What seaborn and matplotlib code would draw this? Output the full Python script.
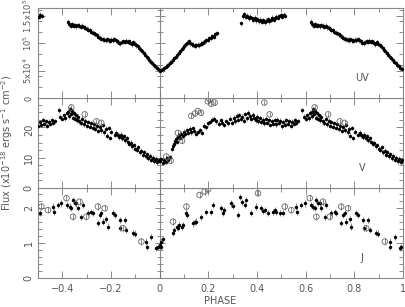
import numpy as np
import pandas as pd
import matplotlib
matplotlib.use("Agg")
import matplotlib.pyplot as plt
import seaborn as sns
from matplotlib.ticker import MultipleLocator, FixedLocator, FixedFormatter, FuncFormatter

# ---------------- data (phase 0..1; plotted again at phase-1) ----------------
uv_phase = [0.000, 0.006, 0.012, 0.018, 0.024, 0.030, 0.036, 0.042, 0.048, 0.054,
            0.060, 0.066, 0.072, 0.078, 0.084, 0.090, 0.096, 0.102, 0.108, 0.114,
            0.120, 0.126, 0.132, 0.138, 0.144, 0.150, 0.156, 0.162, 0.168, 0.174,
            0.180, 0.186, 0.192, 0.198, 0.204, 0.210, 0.216, 0.222, 0.228, 0.234,
            0.336, 0.342, 0.348, 0.354, 0.360, 0.366, 0.372, 0.378, 0.384, 0.390,
            0.396, 0.402, 0.408, 0.414, 0.420, 0.426, 0.432, 0.438, 0.444, 0.450,
            0.456, 0.462, 0.468, 0.474, 0.480, 0.486, 0.492, 0.498, 0.504, 0.510, 0.516,
            0.622, 0.628, 0.634, 0.640, 0.646, 0.652, 0.658, 0.664, 0.670, 0.676,
            0.682, 0.688, 0.694, 0.700, 0.706, 0.712, 0.718, 0.724, 0.730, 0.736,
            0.742, 0.748, 0.754, 0.760, 0.766, 0.772, 0.778, 0.784, 0.790, 0.796,
            0.802, 0.808, 0.814, 0.820, 0.826, 0.832, 0.838, 0.844, 0.850, 0.856,
            0.862, 0.868, 0.874, 0.880, 0.886, 0.892, 0.898, 0.904, 0.910, 0.916,
            0.922, 0.928, 0.934, 0.940, 0.946, 0.952, 0.958, 0.964, 0.970, 0.976,
            0.982, 0.988, 0.994]
uv_flux_1e4 = [5.0, 5.1, 5.2, 5.4, 5.7, 5.9, 6.1, 6.4, 6.6, 6.9,
               7.2, 7.5, 7.9, 8.2, 8.5, 8.9, 9.2, 9.5, 9.8, 10.1,
               10.3, 10.0, 9.8, 9.7, 9.5, 9.6, 9.7, 9.6, 9.9, 10.0,
               10.1, 10.3, 10.5, 10.6, 10.9, 11.0, 11.3, 11.2, 11.6, 11.8,
               13.6, 14.9, 15.3, 14.8, 15.0, 14.5, 14.8, 14.5, 14.3, 14.6,
               14.2, 14.4, 14.0, 14.3, 13.9, 14.2, 13.8, 14.1, 14.4, 14.0,
               14.3, 14.6, 14.3, 14.5, 14.8, 14.6, 14.9, 15.1, 14.8, 15.2, 15.0,
               13.9, 13.4, 13.2, 13.4, 13.2, 13.3, 13.1, 13.3, 13.2, 13.0,
               13.2, 12.9, 12.8, 12.6, 12.4, 12.3, 12.1, 11.9, 11.8, 11.6,
               11.4, 11.2, 11.0, 10.8, 10.7, 10.6, 10.5, 10.7, 10.5, 10.4,
               10.6, 10.5, 10.7, 10.5, 10.3, 10.1, 10.0, 10.2, 10.3, 10.2,
               10.4, 10.2, 10.3, 10.1, 9.8, 10.2, 9.9, 9.6, 9.4, 9.1,
               8.8, 8.5, 8.2, 7.9, 7.5, 7.2, 6.9, 6.6, 6.3, 6.0,
               5.8, 5.5, 5.3]

v_phase = [0.000, 0.006, 0.012, 0.018, 0.024, 0.030, 0.036, 0.042,
           0.052, 0.056, 0.060, 0.064, 0.068, 0.072, 0.076, 0.080, 0.084, 0.088,
           0.094, 0.100, 0.106, 0.112, 0.118, 0.124, 0.130, 0.136, 0.142, 0.150,
           0.158, 0.166, 0.174, 0.182, 0.190, 0.198, 0.206, 0.214, 0.222,
           0.232, 0.242, 0.250, 0.258, 0.266, 0.272, 0.280, 0.288, 0.296, 0.304,
           0.310, 0.316, 0.322, 0.328, 0.334, 0.340, 0.346, 0.352, 0.358, 0.364,
           0.370, 0.376, 0.382, 0.388, 0.394, 0.400, 0.406, 0.412, 0.418, 0.424,
           0.430, 0.436, 0.442, 0.448, 0.454, 0.460, 0.466, 0.472, 0.478, 0.484,
           0.490, 0.496, 0.502, 0.508, 0.514, 0.520, 0.526, 0.532, 0.538, 0.544,
           0.550, 0.556, 0.562, 0.568,
           0.585, 0.592, 0.600, 0.606, 0.612, 0.618, 0.624, 0.628, 0.632, 0.636,
           0.640, 0.644, 0.648, 0.652, 0.656, 0.660, 0.664, 0.670, 0.676, 0.682,
           0.688, 0.694, 0.700, 0.706, 0.712, 0.718, 0.724, 0.730, 0.736, 0.742,
           0.748, 0.754, 0.760, 0.766, 0.772, 0.778, 0.784, 0.790, 0.796, 0.802,
           0.815, 0.822, 0.828, 0.834, 0.840, 0.846, 0.852, 0.858, 0.864, 0.870,
           0.876, 0.882, 0.888, 0.894, 0.900, 0.906, 0.912, 0.918, 0.924, 0.930,
           0.936, 0.942, 0.948, 0.954, 0.960, 0.966, 0.972, 0.978, 0.984, 0.990, 0.996]
v_flux = [8.8, 9.5, 8.3, 9.2, 8.6, 9.8, 9.1, 10.2,
          13.0, 13.8, 14.6, 15.5, 16.2, 15.2, 16.8, 17.4, 16.5, 17.9,
          17.2, 18.6, 17.8, 19.0, 18.2, 19.6, 18.4, 19.8, 18.9, 17.9,
          18.5, 19.1, 18.2, 20.5, 20.0, 21.4, 21.8, 22.6, 22.9,
          22.0, 21.2, 22.4, 21.6, 20.8, 22.1, 21.4, 22.8, 21.5, 23.2,
          22.0, 23.8, 22.5, 24.1, 22.9, 23.5, 22.2, 24.4, 23.0, 24.8,
          23.6, 22.8, 24.2, 23.0, 22.4, 23.5, 22.0, 23.1, 21.8, 22.6,
          21.3, 22.9, 21.5, 22.3, 20.8, 22.0, 21.2, 22.4, 21.0, 22.6,
          21.5, 22.2, 20.4, 21.8, 20.9, 22.3, 21.1, 22.0, 20.6, 21.9,
          21.2, 22.4, 21.6, 22.1,
          25.6, 23.5, 22.8, 24.0, 23.0, 24.8, 25.2, 23.6, 26.0, 24.4,
          25.5, 23.2, 24.6, 22.8, 24.0, 22.4, 23.5, 22.0, 21.4, 22.8,
          21.0, 22.2, 20.6, 21.8, 20.2, 21.4, 19.8, 21.0, 19.5, 20.6,
          18.8, 20.2, 19.0, 20.8, 18.4, 19.6, 17.2, 19.8, 16.5, 18.6,
          17.6, 18.2, 17.4, 16.8, 17.6, 16.4, 17.0, 15.8, 16.4, 15.2,
          14.6, 15.0, 13.8, 14.2, 13.0, 12.6, 13.4, 11.8, 12.3, 11.0,
          11.8, 10.4, 11.2, 9.8, 10.6, 9.4, 10.0, 8.8, 9.6, 8.5, 9.2]

v_circ_phase = [0.027, 0.045, 0.075, 0.092, 0.130, 0.145, 0.157, 0.170, 0.198,
                0.205, 0.212, 0.226, 0.430, 0.452, 0.637, 0.692, 0.740, 0.760]
v_circ_flux = [10.4, 9.0, 18.2, 15.6, 23.8, 24.6, 25.4, 24.8, 28.6,
               29.3, 27.8, 28.2, 28.2, 24.3, 26.6, 24.3, 22.0, 21.5]

j_phase = [0.000, 0.004, 0.007, 0.012, 0.055, 0.060, 0.070, 0.075, 0.080, 0.090,
           0.096, 0.110, 0.112, 0.137, 0.145, 0.151, 0.171, 0.192, 0.212, 0.219,
           0.253, 0.260, 0.266, 0.294, 0.300, 0.322, 0.329, 0.340, 0.349, 0.356,
           0.377, 0.397, 0.418, 0.425, 0.432, 0.445, 0.466, 0.472, 0.480, 0.493,
           0.507, 0.562, 0.565, 0.582, 0.596, 0.620, 0.630, 0.637, 0.644, 0.650,
           0.658, 0.665, 0.678, 0.685, 0.705, 0.719, 0.726, 0.747, 0.753, 0.760,
           0.767, 0.781, 0.788, 0.808, 0.815, 0.836, 0.838, 0.856, 0.863, 0.890,
           0.897, 0.945, 0.947, 0.966, 0.986, 0.993]
j_flux = [0.94, 0.88, 1.04, 1.10, 1.28, 1.36, 1.45, 1.42, 1.50, 1.47,
          1.52, 1.85, 1.80, 1.56, 1.60, 1.61, 1.75, 1.89, 1.89, 2.09,
          1.99, 1.85, 1.95, 2.13, 2.05, 1.80, 2.32, 2.18, 2.09, 2.23,
          1.85, 2.04, 1.99, 1.92, 1.94, 1.85, 1.89, 1.95, 1.89, 1.85,
          1.85, 2.04, 1.88, 2.09, 2.13, 2.09, 2.04, 1.99, 2.23, 2.15,
          2.13, 2.00, 1.75, 2.09, 1.85, 1.89, 1.85, 1.58, 1.80, 1.85,
          1.61, 1.68, 1.47, 1.85, 1.80, 1.66, 1.42, 1.66, 1.37, 1.28,
          1.27, 1.04, 0.89, 1.18, 0.85, 0.89]

j_circ_phase = [0.055, 0.110, 0.164, 0.185, 0.199, 0.404, 0.514, 0.541,
                0.617, 0.644, 0.671, 0.699, 0.746, 0.774, 0.849, 0.925]
j_circ_flux = [1.61, 2.04, 2.37, 2.47, 2.53, 2.42, 2.04, 1.94,
               2.28, 1.75, 2.18, 1.75, 2.04, 1.99, 1.42, 1.04]

uv_tick_labels = ['0', '5x10$^4$', '10$^5$', '1.5x10$^5$']

uv_err, v_err, j_err = 0.45e4, 0.8, 0.09

text_color = '#555555'
spine_color = '#888888'

# ---------------- figure ----------------
sns.set_style("ticks")
plt.rcParams['font.family'] = ['DejaVu Sans']

fig = plt.figure(figsize=(4.05, 3.07), dpi=100)
L, W, H = 38 / 405, 365 / 405, 90 / 307
axJ = fig.add_axes([L, 1 - 278 / 307, W, H])
axV = fig.add_axes([L, 1 - 188 / 307, W, H])
axU = fig.add_axes([L, 1 - 98 / 307, W, H])


def wrap(phase, val):
    df = pd.DataFrame({'phase': np.asarray(phase, float), 'flux': np.asarray(val, float)})
    out = pd.concat([df, df.assign(phase=df['phase'] - 1.0)], ignore_index=True)
    return out[(out['phase'] >= -0.5) & (out['phase'] <= 1.0)]


def draw(ax, phase, val, err, filled=True, clip=True):
    d = wrap(phase, val)
    ax.errorbar(d['phase'], d['flux'], yerr=err, fmt='none', ecolor='#7a7a7a',
                elinewidth=0.6, capsize=0, zorder=2, clip_on=clip)
    if filled:
        sns.scatterplot(data=d, x='phase', y='flux', ax=ax, color='black', s=6,
                        linewidth=0, zorder=3, clip_on=clip, legend=False)
    else:
        sns.scatterplot(data=d, x='phase', y='flux', ax=ax, marker='o', s=16,
                        facecolor='none', edgecolor='#666666', linewidth=0.6,
                        zorder=3, clip_on=clip, legend=False)


draw(axU, uv_phase, np.asarray(uv_flux_1e4) * 1e4, uv_err)
draw(axV, v_phase, v_flux, v_err)
draw(axV, v_circ_phase, v_circ_flux, v_err, filled=False)
draw(axJ, j_phase, j_flux, j_err, clip=False)
draw(axJ, j_circ_phase, j_circ_flux, j_err, filled=False, clip=False)


def xfmt(v, _):
    s = f"{v:.1f}".rstrip('0').rstrip('.')
    if s in ('-0', '0', ''):
        return '0'
    return s.replace('-', '\u2212')


panel_setup = [
    (axU, (0, 1.64e5), FixedLocator([0, 5e4, 1e5, 1.5e5]), MultipleLocator(2e4),
     FixedFormatter(uv_tick_labels), 'UV'),
    (axV, (0, 29.7), MultipleLocator(10), MultipleLocator(2.5),
     FuncFormatter(lambda v, _: f"{v:g}"), 'V'),
    (axJ, (0, 2.57), MultipleLocator(1), MultipleLocator(0.2),
     FuncFormatter(lambda v, _: f"{v:g}"), 'J'),
]

for ax, ylim, ymaj, ymin, yfmt, name in panel_setup:
    ax.set_xlim(-0.5, 1.0)
    ax.set_ylim(*ylim)
    ax.set_xlabel('')
    ax.set_ylabel('')
    ax.xaxis.set_major_locator(MultipleLocator(0.2))
    ax.xaxis.set_minor_locator(MultipleLocator(0.1))
    ax.xaxis.set_major_formatter(FuncFormatter(xfmt))
    ax.yaxis.set_major_locator(ymaj)
    ax.yaxis.set_minor_locator(ymin)
    ax.yaxis.set_major_formatter(yfmt)
    ax.tick_params(which='both', direction='in', top=True, right=True,
                   color='#777777', width=0.6, labelsize=7,
                   labelcolor=text_color)
    ax.tick_params(which='major', length=5)
    ax.tick_params(which='minor', length=3)
    ax.tick_params(axis='y', labelrotation=90, pad=3)
    ax.tick_params(axis='x', pad=4)
    for sp in ax.spines.values():
        sp.set_color(spine_color)
        sp.set_linewidth(0.8)
    # vertical axis line at phase 0 with crossing ticks
    sec = ax.secondary_yaxis(1 / 3)
    sec.yaxis.set_major_locator(ymaj)
    sec.yaxis.set_minor_locator(ymin)
    sec.tick_params(which='both', direction='inout', labelleft=False,
                    labelright=False, color='#777777', width=0.6)
    sec.tick_params(which='major', length=7)
    sec.tick_params(which='minor', length=5)
    for sp in sec.spines.values():
        sp.set_color(spine_color)
        sp.set_linewidth(0.8)
    ax.text(0.888, 0.22, name, transform=ax.transAxes, ha='center', va='center',
            fontsize=7, color=text_color)
    for lab in ax.get_yticklabels():
        lab.set_va('center')

axU.tick_params(axis='y', labelsize=6.0)
axU.tick_params(labelbottom=False)
axV.tick_params(labelbottom=False)

fig.text(220 / 405, 3 / 307, 'PHASE', ha='center', va='baseline',
         fontsize=7, color=text_color)
fig.text(0.018, 0.534, r'Flux (x10$^{-18}$ ergs s$^{-1}$ cm$^{-2}$)', rotation=90,
         ha='center', va='center', fontsize=7, color=text_color)

fig.savefig('out.png', dpi=100)
